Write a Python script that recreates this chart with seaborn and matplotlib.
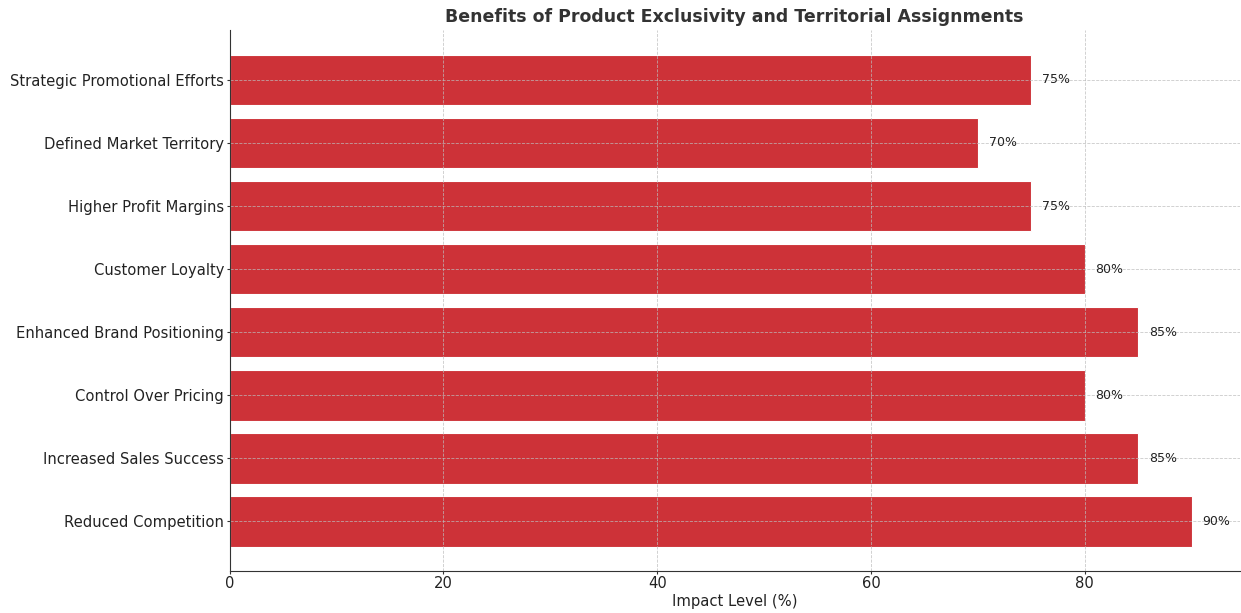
import matplotlib
matplotlib.use("Agg")
import matplotlib.pyplot as plt
import pandas as pd
import seaborn as sns

# listed top to bottom as they appear in the chart
benefits = ["Strategic Promotional Efforts", "Defined Market Territory", "Higher Profit Margins",
            "Customer Loyalty", "Enhanced Brand Positioning", "Control Over Pricing",
            "Increased Sales Success", "Reduced Competition"]
impact = [75, 70, 75, 80, 85, 80, 85, 90]

df = pd.DataFrame({"Benefit": benefits, "Impact": impact})

plt.rcParams['font.family'] = ['DejaVu Sans']
fig, ax = plt.subplots(figsize=(12.41, 6.13), dpi=100)

sns.barplot(data=df, x="Impact", y="Benefit", orient="h", color="#cd3238", saturation=1,
            width=0.8, edgecolor="white", linewidth=0.8, ax=ax)

for i, v in enumerate(impact):
    ax.text(v + 1, i, f"{v}%", va="center", ha="left", fontsize=9, color="#222222")

ax.set_xlim(0, 94.5)
ax.set_ylim(len(benefits) - 0.21, -0.79)
ax.grid(True, linestyle="--", linewidth=0.6, color="#bdbdbd", alpha=0.8)
ax.set_axisbelow(False)
for s in ["top", "right"]:
    ax.spines[s].set_visible(False)
for s in ["left", "bottom"]:
    ax.spines[s].set_color("#333333")
    ax.spines[s].set_zorder(5)
ax.tick_params(axis="both", labelsize=10.6, colors="#333333", labelcolor="#222222",
               length=2.5, pad=1.5)
ax.tick_params(axis="x", pad=1)
ax.set_xlabel("Impact Level (%)", fontsize=10.6, color="#222222", labelpad=2)
ax.set_ylabel("")
ax.set_title("Benefits of Product Exclusivity and Territorial Assignments", fontsize=12.5,
             fontweight="bold", color="#333333")

fig.subplots_adjust(left=0.185, right=0.999, top=0.951, bottom=0.068)
fig.savefig("out.png", dpi=100)
